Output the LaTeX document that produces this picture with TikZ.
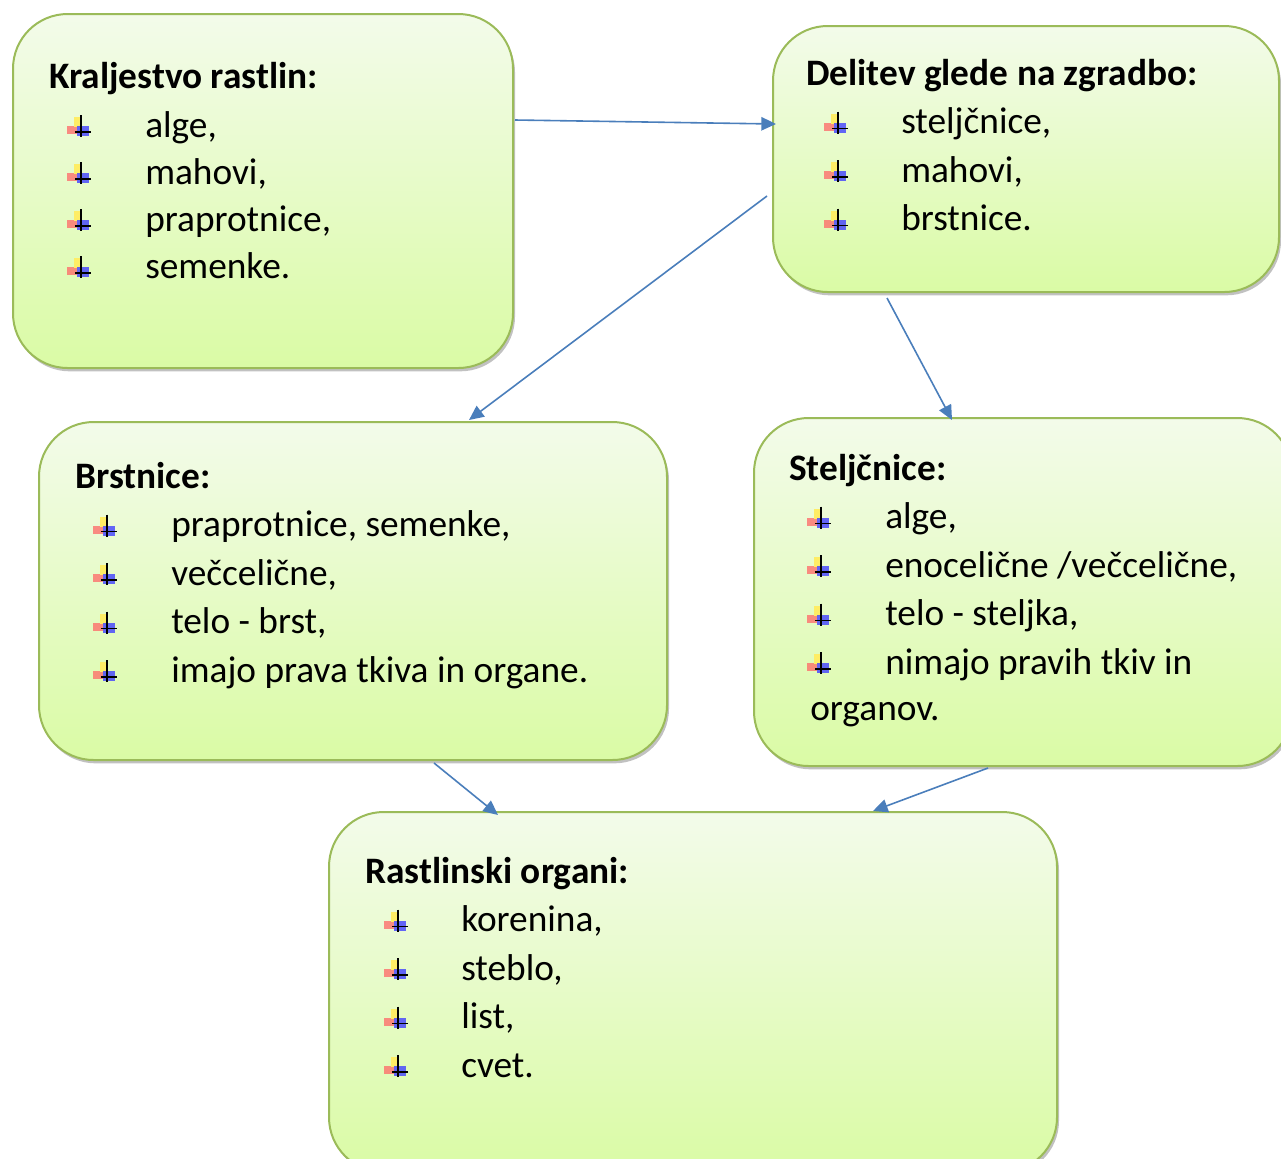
\documentclass[tikz,border=0pt]{standalone}
\usepackage{fontspec}
\setmainfont{Carlito}
\usetikzlibrary{arrows.meta,shadows}

\definecolor{boxline}{RGB}{155,187,89}
\definecolor{boxtop}{RGB}{243,251,234}
\definecolor{boxbottom}{RGB}{218,251,165}
\definecolor{linkblue}{RGB}{74,126,187}

\tikzset{
  plantbox/.style={draw=boxline, line width=1.5pt, rounded corners=41pt,
    top color=boxtop, bottom color=boxbottom, inner sep=0pt,
    drop shadow={shadow xshift=1.5pt, shadow yshift=-2.5pt, opacity=.35, fill=black!70}},
  heading/.style={anchor=base west, inner sep=0pt, font=\fontsize{28}{34}\selectfont\bfseries},
  item/.style={anchor=base west, inner sep=0pt, font=\fontsize{28}{34}\selectfont},
  link/.style={draw=linkblue, line width=1.2pt, -{Triangle[length=11pt,width=10pt]}},
  pics/plantmark/.style={code={
    \fill[red!60, opacity=.75] (-13,-1) rectangle (-3,7);
    \fill[yellow!85!orange!60] (-6,-10) rectangle (1,0);
    \fill[blue!75, opacity=.8] (-3,-1) rectangle (9,9);
    \draw[line width=1pt] (1,-12) -- (1,10);
    \draw[line width=1pt] (-5,5) -- (11,5);
  }}
}

\begin{document}
\begin{tikzpicture}[x=0.75pt,y=-0.75pt]
\useasboundingbox (0,0) rectangle (1281,1158);

%Boxes
\node[plantbox, minimum width=375pt, minimum height=265.5pt] (A) at (263,191) {};
\node[plantbox, minimum width=379.5pt, minimum height=199.5pt] (B) at (1026,159) {};
\node[plantbox, minimum width=471pt, minimum height=253.5pt] (C) at (353,591) {};
\node[plantbox, minimum width=403.5pt, minimum height=261pt] (D) at (1023,592) {};
\node[plantbox, minimum width=546pt, minimum height=270pt] (E) at (693,992) {};

% Kraljestvo rastlin
\node[heading] (A-head) at (49,88) {Kraljestvo rastlin:};
\foreach \txt [count=\i] in {{alge,},{mahovi,},{praprotnice,},{semenke.}} {
  \pic at (80,{80+47*\i}) {plantmark};
  \node[item] (A-\i) at (145,{90+47*\i}) {\txt};
}

% Delitev glede na zgradbo
\node[heading] (B-head) at (806,85) {Delitev glede na zgradbo:};
\foreach \txt [count=\i] in {{steljčnice,},{mahovi,},{brstnice.}} {
  \pic at (837,{75+48.5*\i}) {plantmark};
  \node[item] (B-\i) at (901,{85+48.5*\i}) {\txt};
}

% Brstnice
\node[heading] (C-head) at (75,488) {Brstnice:};
\foreach \txt [count=\i] in {{praprotnice, semenke,},{večcelične,},{telo - brst,},{imajo prava tkiva in organe.}} {
  \pic at (106,{478+48.5*\i}) {plantmark};
  \node[item] (C-\i) at (171,{488+48.5*\i}) {\txt};
}

% Steljcnice
\node[heading] (D-head) at (789,480) {Steljčnice:};
\foreach \txt [count=\i] in {{alge,},{enocelične /večcelične,},{telo - steljka,},{nimajo pravih tkiv in}} {
  \pic at (820,{470+48.5*\i}) {plantmark};
  \node[item] (D-\i) at (885,{480+48.5*\i}) {\txt};
}
\node[item] (D-5) at (810,720) {organov.};

% Rastlinski organi
\node[heading] (E-head) at (365,883) {Rastlinski organi:};
\foreach \txt [count=\i] in {{korenina,},{steblo,},{list,},{cvet.}} {
  \pic at (397,{873+48.5*\i}) {plantmark};
  \node[item] (E-\i) at (461,{883+48.5*\i}) {\txt};
}

%Straight Lines
\coordinate (A-out) at (515,120);
\coordinate (B-in) at (776,124);
\coordinate (B-out1) at (767,196);
\coordinate (C-in) at (469,420);
\coordinate (B-out2) at (887,298);
\coordinate (D-in) at (952,420);
\coordinate (C-out) at (434,763);
\coordinate (E-in1) at (498,815);
\coordinate (D-out) at (988,768);
\coordinate (E-in2) at (873,811);

\draw[link] (A-out) -- (B-in);
\draw[link] (B-out1) -- (C-in);
\draw[link] (B-out2) -- (D-in);
\draw[link] (C-out) -- (E-in1);
\draw[link] (D-out) -- (E-in2);

\end{tikzpicture}
\end{document}
